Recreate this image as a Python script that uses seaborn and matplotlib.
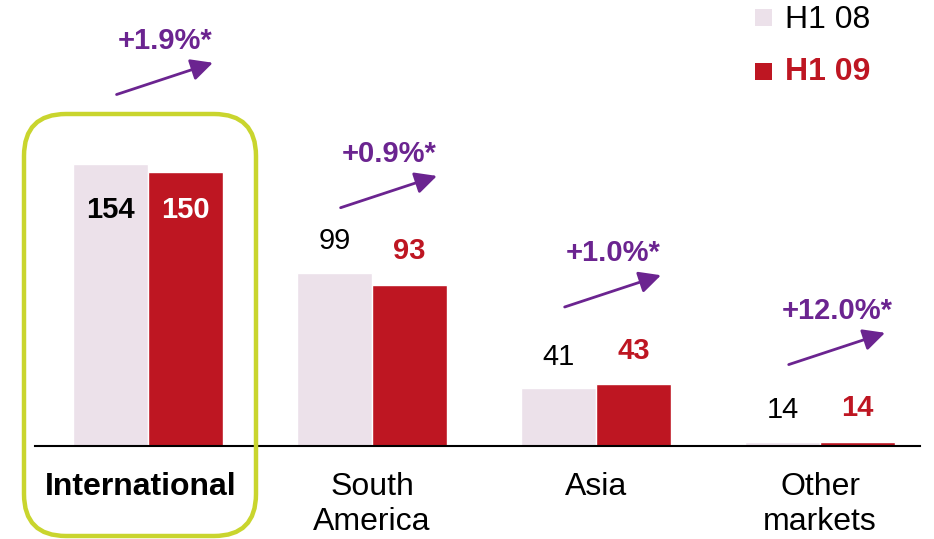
import numpy as np
import pandas as pd
import matplotlib
matplotlib.use("Agg")
import matplotlib.pyplot as plt
import seaborn as sns
from matplotlib.patches import FancyBboxPatch, Rectangle
from matplotlib.transforms import IdentityTransform, ScaledTranslation

categories = ["International", "South\nAmerica", "Asia", "Other\nmarkets"]
series_names = ["H1 08", "H1 09"]
h1_08 = [154, 99, 41, 14]
h1_09 = [150, 93, 43, 14]
growth_labels = ["+1.9%*", "+0.9%*", "+1.0%*", "+12.0%*"]

PINK = "#ece1ea"
RED = "#be1622"
PURPLE = "#6b2490"
LIME = "#c9d52e"

sns.set_theme(style="white")
plt.rcParams["font.family"] = ["Liberation Sans", "DejaVu Sans"]

df = pd.DataFrame({
    "region": categories * 2,
    "period": [series_names[0]] * 4 + [series_names[1]] * 4,
    "value": h1_08 + h1_09,
})

fig = plt.figure(figsize=(9.34, 5.39), dpi=100)
ax = fig.add_axes([35 / 934, 1 - 446 / 539, 885 / 934, 446 / 539])
sns.barplot(data=df, x="region", y="value", hue="period", order=categories,
            hue_order=series_names, palette=[PINK, RED], width=0.67,
            saturation=1, dodge=True, legend=False, ax=ax)

ax.set_xlim(-0.504, 3.446)
ax.set_ylim(12, 236.6)
ax.set_xlabel("")
ax.set_ylabel("")
ax.set_yticks([])
for s in ["left", "right", "top"]:
    ax.spines[s].set_visible(False)
ax.spines["bottom"].set_color("black")
ax.spines["bottom"].set_linewidth(1.5)
ax.tick_params(axis="x", length=0, pad=19, labelsize=23)
for i, lbl in enumerate(ax.get_xticklabels()):
    lbl.set_color("black")
    lbl.set_fontsize(23)
    lbl.set_linespacing(1.22)
    if i == 0:
        lbl.set_fontweight("bold")
        lbl.set_transform(lbl.get_transform() +
                          ScaledTranslation(-7 / 100, 0, fig.dpi_scale_trans))

off = 0.335 / 2
for i in range(len(categories)):
    v8, v9 = h1_08[i], h1_09[i]
    if i == 0:
        ax.text(i - off, 131, str(v8), ha="center", va="center", fontsize=21,
                fontweight="bold", color="black")
        ax.text(i + off, 131, str(v9), ha="center", va="center", fontsize=21,
                fontweight="bold", color="white")
    else:
        ax.text(i - off, v8 + 16, str(v8), ha="center", va="center", fontsize=21,
                color="black")
        ax.text(i + off, v9 + 17, str(v9), ha="center", va="center", fontsize=21,
                fontweight="bold", color=RED)
    x0, x1 = i - 0.14, i + 0.29
    ax.annotate("", xy=(x1, v9 + 55), xytext=(x0, v9 + 39),
                arrowprops=dict(arrowstyle="-|>,head_length=0.6,head_width=0.3",
                                color=PURPLE, lw=2,
                                mutation_scale=22, shrinkA=0, shrinkB=0))
    ax.text((x0 + x1) / 2, v9 + 66, growth_labels[i], ha="center", va="center",
            fontsize=21, fontweight="bold", color=PURPLE)

# highlight box around International
box = FancyBboxPatch((24, 539 - 536), 232, 536 - 114,
                     boxstyle="round,pad=0,rounding_size=42",
                     transform=IdentityTransform(), fill=False,
                     edgecolor=LIME, linewidth=3.2, clip_on=False)
fig.add_artist(box)

# legend
fig.add_artist(Rectangle((755, 539 - 26), 17, 17, transform=IdentityTransform(),
                         facecolor=PINK, edgecolor="none"))
fig.add_artist(Rectangle((755, 539 - 80), 17, 17, transform=IdentityTransform(),
                         facecolor=RED, edgecolor="none"))
fig.text(785 / 934, 1 - 20 / 539, series_names[0], ha="left", va="center",
         fontsize=23, color="black")
fig.text(785 / 934, 1 - 72 / 539, series_names[1], ha="left", va="center",
         fontsize=23, fontweight="bold", color=RED)

fig.savefig("out.png", dpi=100)
